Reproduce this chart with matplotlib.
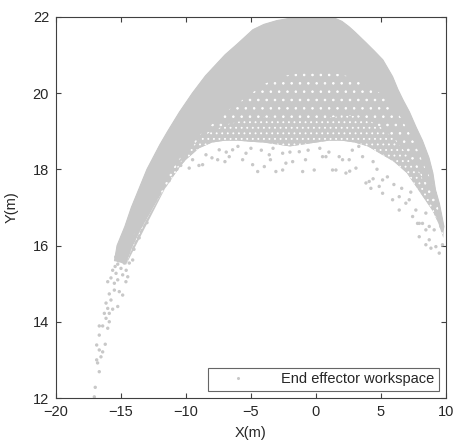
import matplotlib
matplotlib.use("Agg")
import matplotlib.pyplot as plt
from matplotlib.lines import Line2D

plt.rcParams['font.family'] = ['Liberation Sans', 'DejaVu Sans']
plt.rcParams['hatch.linewidth'] = 0.6

# ---- data ----
# outline of the densely covered part of the workspace (upper edge, left -> right)
top_x = [-15.5, -15.3, -14.7, -14.2, -13.6, -13.0, -12.0, -11.4, -10.5, -9.5, -8.5, -7.0, -6.0, -4.85, -4.0, -3.0,
         -2.0, -1.2, 0.0, 1.2, 2.0, 2.54, 3.0, 3.85, 4.5, 5.15, 5.9, 6.3, 6.7, 7.2, 7.7, 8.2, 8.7, 9.0, 9.2, 9.5, 9.85]
top_y = [15.6, 16.0, 16.5, 17.0, 17.5, 18.0, 18.65, 19.0, 19.5, 20.0, 20.45, 21.0, 21.3, 21.66, 21.8, 21.9,
         21.96, 22.0, 22.0, 22.0, 21.88, 21.74, 21.6, 21.32, 21.1, 20.87, 20.43, 20.1, 19.82, 19.5, 19.11, 18.75, 18.3, 17.9, 17.46, 17.1, 16.5]

# lower edge of the almost solid part (right -> left)
solid_low_x = [9.8, 9.5, 9.2, 8.8, 8.5, 8.0, 7.5, 7.0, 6.5, 5.8, 5.0, 4.0, 3.0, 2.0, 1.0, 0.0, -1.0, -2.0, -3.0,
               -4.0, -5.0, -6.0, -7.0, -8.0, -9.0, -10.0, -10.5, -11.0, -11.5, -12.0, -12.5, -13.0, -13.5, -14.0, -14.4, -14.9]
solid_low_y = [16.4, 16.9, 17.4, 17.8, 18.0, 18.4, 18.8, 19.1, 19.4, 19.7, 20.0, 20.2, 20.4, 20.5, 20.55, 20.6, 20.55, 20.5, 20.4,
               20.25, 20.0, 19.75, 19.5, 19.2, 18.9, 18.5, 18.3, 18.05, 17.8, 17.5, 17.2, 16.9, 16.6, 16.3, 16.0, 15.6]

# lower edge of the speckled part (right -> left)
speck_low_x = [9.8, 9.4, 9.0, 8.5, 8.0, 7.5, 7.0, 6.5, 6.0, 5.5, 5.0, 4.0, 3.0, 2.0, 1.0, 0.0, -1.0, -2.0, -3.0, -4.0,
               -5.0, -6.0, -7.0, -8.0, -9.0, -9.5, -10.0, -10.5, -11.0, -11.5, -12.0, -12.5, -13.0, -13.5, -14.2, -14.6]
speck_low_y = [16.2, 16.6, 16.9, 17.15, 17.4, 17.65, 17.9, 18.05, 18.2, 18.3, 18.4, 18.6, 18.7, 18.75, 18.75, 18.7, 18.65, 18.6, 18.65, 18.7,
               18.72, 18.75, 18.75, 18.7, 18.55, 18.4, 18.25, 18.05, 17.8, 17.55, 17.3, 17.0, 16.7, 16.4, 15.9, 15.5]

# middle edge of the speckled part, above which holes are rarer (left -> right)
speck_mid_x = [-11.0, -10.0, -9.0, -8.0, -7.0, -6.0, -5.0, -4.0, -3.0, -2.0, -1.0, 0.0, 1.0, 2.0, 3.0, 4.0, 5.0, 6.0, 7.0, 8.0, 8.6, 9.4]
speck_mid_y = [17.9, 18.4, 18.8, 19.0, 19.15, 19.25, 19.3, 19.35, 19.35, 19.3, 19.3, 19.3, 19.35, 19.4, 19.4, 19.3, 19.1, 18.8, 18.4, 17.9, 17.4, 16.6]

# isolated points of the sparse fringe
sparse_x = [-17.05, -16.98, -16.67, -16.8, -16.87, -16.54, -16.41, -16.67, -16.21, -16.87, -16.67, -16.67, -16.41,
            -16.02, -15.9, -16.15, -16.28, -15.9, -16.02, -15.64, -15.25, -16.15, -15.77, -14.87, -15.9, -15.51,
            -15.13, -16.02, -15.51, -15.25, -15.77, -14.62, -15.38, -14.87, -14.48, -15.0, -14.6, -15.64, -14.36,
            -14.1, -14.74, -15.25, -15.4, -14.5, -14.2, -13.8, -13.3, -15.45, -15.2,
            -14.0, -13.6, -13.0, -12.3, -12.0, -11.3, -10.7, -10.4,
            -9.75, -8.72, -7.56, -6.67, -5.64, -4.87, -4.48, -3.97, -3.08, -2.56, -2.31, -1.79, -1.02, -0.13,
            -5.38, -3.59, -2.56, -1.28, -8.46, -9.49, -6.41, -7.44,
            -6.9, -6.0, -5.0, -4.2, -3.3, -2.0, -0.6, 0.3, 1.0, 2.8, 3.3, 4.4, 4.7, 5.5, 6.0, 6.6, 7.3,
            -7.0, -8.0, -9.0, -3.5, -0.8, 2.6, 4.4,
            1.54, 2.31, 3.08, 0.77, 2.05, 3.59, 4.1, 4.87, 5.13, 5.9, 6.41, 6.92, 7.44, 7.82, 8.46, 8.72,
            7.95, 8.46, 8.72, 9.23, 8.85, 9.49, 9.74, 8.46,
            3.85, 4.23, 5.13, 6.41, 7.18, 7.69, 8.2, 9.1, 9.62, 7.95, 1.79, 0.51, 1.28, 2.56]
sparse_y = [12.03, 12.28, 12.69, 12.92, 13.0, 13.08, 13.21, 13.26, 13.41, 13.39, 13.65, 13.89, 13.89,
            13.83, 14.0, 14.09, 14.22, 14.22, 14.35, 14.33, 14.4, 14.49, 14.57, 14.7, 14.73, 14.83,
            14.79, 15.05, 15.01, 15.1, 15.15, 15.05, 15.27, 15.23, 15.18, 15.4, 15.35, 15.35, 15.54,
            15.62, 15.54, 15.51, 15.7, 15.8, 16.1, 16.5, 16.9, 15.45, 15.6,
            15.9, 16.2, 16.6, 17.2, 17.5, 17.7, 18.0, 18.1,
            18.03, 18.12, 18.25, 18.33, 18.25, 18.12, 17.94, 18.07, 17.94, 17.98, 18.16, 18.2, 17.94, 17.98,
            18.42, 18.38, 18.42, 18.46, 18.38, 18.25, 18.51, 18.51,
            18.45, 18.6, 18.55, 18.5, 18.55, 18.45, 18.5, 18.55, 18.45, 18.5, 18.6, 18.2, 18.0, 17.8, 17.6, 17.5, 17.4,
            18.2, 18.3, 18.1, 18.25, 18.25, 17.95, 17.75,
            17.98, 17.9, 18.03, 18.33, 18.25, 18.33, 17.68, 17.55, 17.37, 17.2, 16.93, 17.11, 16.76, 16.58, 16.85, 16.5,
            16.58, 16.41, 16.15, 15.97, 15.93, 15.8, 16.02, 16.02,
            17.64, 17.5, 17.72, 17.28, 17.2, 16.93, 16.58, 16.41, 16.5, 16.23, 18.33, 18.33, 17.98, 18.25]

x_ticks = [-20, -15, -10, -5, 0, 5, 10]
y_ticks = [12, 14, 16, 18, 20, 22]

point_color = '#c8c8c8'
axis_color = '#404040'
text_color = '#262626'

fig = plt.figure(figsize=(4.56, 4.48), dpi=100)
ax = fig.add_axes([0.1228, 0.1116, 0.855, 0.851])

# speckled zone: gray with white holes
ax.fill(top_x + speck_low_x, top_y + speck_low_y, facecolor=point_color,
        edgecolor='white', hatch='..', linewidth=0, zorder=1)
# lower speckled band with more holes
ax.fill(speck_mid_x + speck_low_x, speck_mid_y + speck_low_y, facecolor=point_color,
        edgecolor='white', hatch='...', linewidth=0, zorder=1.5)
# solid zone
ax.fill(top_x + solid_low_x, top_y + solid_low_y, facecolor=point_color,
        edgecolor=point_color, linewidth=0.8, zorder=2)
# sparse fringe points
ax.scatter(sparse_x, sparse_y, s=6, color=point_color, edgecolors='none', zorder=3)

ax.set_xlim(-20, 10)
ax.set_ylim(12, 22)
ax.set_xticks(x_ticks)
ax.set_yticks(y_ticks)
ax.tick_params(direction='in', length=3.5, width=0.8, top=True, right=True,
               labelsize=10.5, colors=axis_color, labelcolor=text_color, pad=5)
for sp in ax.spines.values():
    sp.set_color(axis_color)
    sp.set_linewidth(0.8)
    sp.set_zorder(4)
ax.set_xlabel('X(m)', fontsize=10.5, color=text_color, labelpad=5)
ax.set_ylabel('Y(m)', fontsize=10.5, color=text_color, labelpad=10)

handle = Line2D([], [], linestyle='none', marker='o', markersize=2.2,
                markerfacecolor=point_color, markeredgecolor='none')
leg = ax.legend([handle], ['End effector workspace'], loc='lower right',
                fontsize=10.5, frameon=True, fancybox=False, borderpad=0.3,
                handlelength=3.5, handletextpad=1.2, borderaxespad=0.5)
leg.get_frame().set_edgecolor(axis_color)
leg.get_frame().set_linewidth(0.8)
for t in leg.get_texts():
    t.set_color(text_color)

fig.savefig('out.png', dpi=100)
